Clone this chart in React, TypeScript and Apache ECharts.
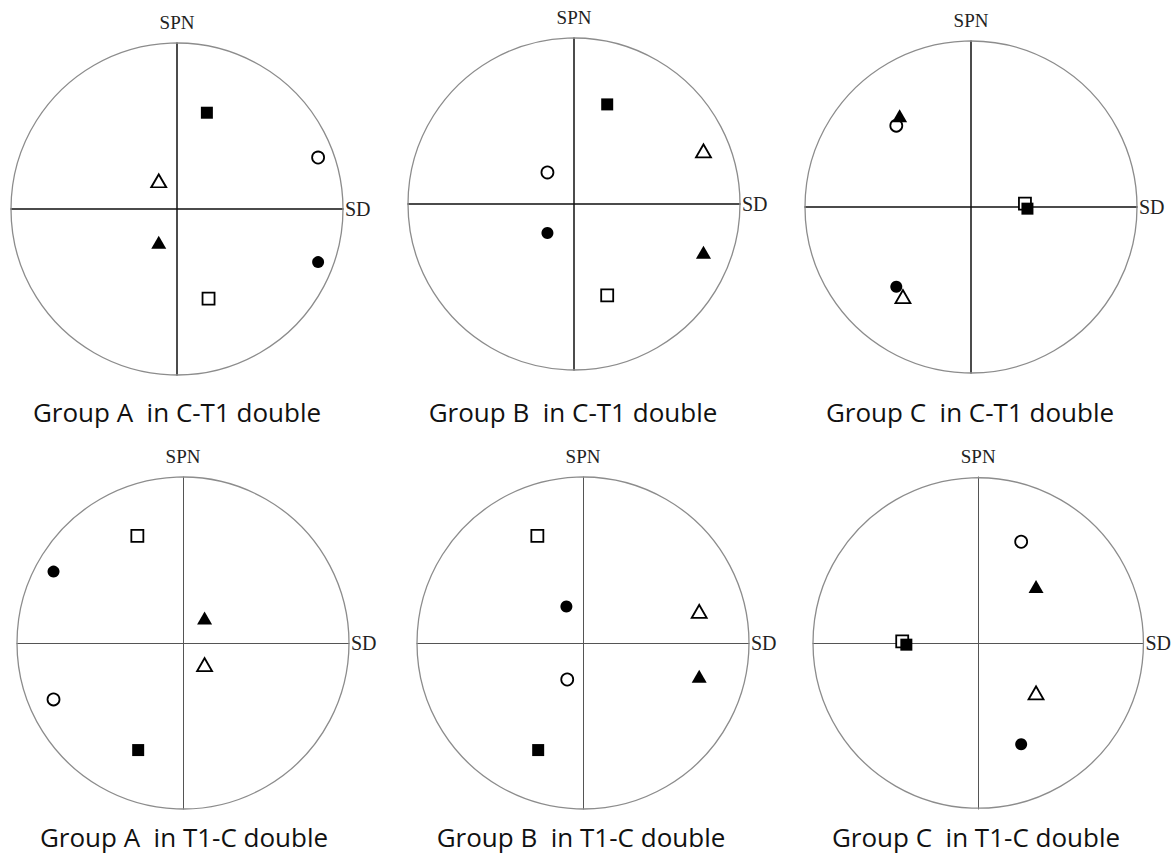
import React, { useEffect, useRef } from "react";
import * as echarts from "echarts";

// Marker kinds, in the order of each panel's point list
const markerKinds = ["filledSquare", "openSquare", "filledCircle", "openCircle", "filledTriangle", "openTriangle"];

// Panel titles
const panelTitles = [
  "Group A  in C-T1 double",
  "Group B  in C-T1 double",
  "Group C  in C-T1 double",
  "Group A  in T1-C double",
  "Group B  in T1-C double",
  "Group C  in T1-C double",
];

// Points [SD, SPN] per panel, order = markerKinds
const groupA_CT1 = [[0.18, 0.58], [0.19, -0.54], [0.85, -0.32], [0.85, 0.31], [-0.11, -0.2], [-0.11, 0.17]];
const groupB_CT1 = [[0.2, 0.6], [0.2, -0.55], [-0.16, -0.175], [-0.16, 0.19], [0.78, -0.29], [0.78, 0.32]];
const groupC_CT1 = [[0.34, -0.01], [0.325, 0.02], [-0.45, -0.48], [-0.45, 0.49], [-0.43, 0.55], [-0.41, -0.54]];
const groupA_T1C = [[-0.27, -0.645], [-0.275, 0.645], [-0.78, 0.43], [-0.78, -0.34], [0.13, 0.15], [0.13, -0.13]];
const groupB_T1C = [[-0.27, -0.645], [-0.275, 0.645], [-0.1, 0.22], [-0.095, -0.22], [0.7, -0.2], [0.7, 0.19]];
const groupC_T1C = [[-0.435, -0.01], [-0.46, 0.01], [0.26, -0.61], [0.26, 0.61], [0.35, 0.34], [0.35, -0.3]];

const panelData = [groupA_CT1, groupB_CT1, groupC_CT1, groupA_T1C, groupB_T1C, groupC_T1C];

// Axis names
const xAxisName = "SD";
const yAxisName = "SPN";

// Layout (circle centres and radius in px)
const centers = [
  [177, 209],
  [574, 204],
  [971, 207],
  [183, 643],
  [583, 643],
  [979, 643],
];
const R = 166;
const titlePos = [
  [177, 412],
  [573, 412],
  [970, 412],
  [184, 837],
  [581, 837],
  [976, 837],
];

function markerStyle(kind: string) {
  const filled = kind.startsWith("filled");
  let symbol = "rect";
  let size: any = 12;
  if (kind.endsWith("Circle")) {
    symbol = "circle";
    size = 12;
  } else if (kind.endsWith("Triangle")) {
    symbol = "triangle";
    size = [15, 13];
  } else {
    size = 12;
  }
  return {
    symbol,
    symbolSize: size,
    itemStyle: {
      color: filled ? "#000" : "#fff",
      borderColor: "#000",
      borderWidth: filled ? 0 : 1.8,
      opacity: 1,
    },
  };
}

export default function App() {
  const ref = useRef<HTMLDivElement>(null);
  useEffect(() => {
    if (!ref.current) return;
    const chart = echarts.init(ref.current, undefined, { renderer: "svg" });
    const grid: any[] = [];
    const xAxis: any[] = [];
    const yAxis: any[] = [];
    const series: any[] = [];
    const graphic: any[] = [];
    panelData.forEach((pts, i) => {
      const [cx, cy] = centers[i];
      const topRow = i < 3;
      const axisColor = topRow ? "#111" : "#555";
      const axisWidth = topRow ? 1.5 : 1;
      grid.push({ left: cx - R, top: cy - R, width: 2 * R, height: 2 * R });
      xAxis.push({
        gridIndex: i,
        type: "value",
        min: -1,
        max: 1,
        axisLine: { show: true, onZero: true, lineStyle: { color: axisColor, width: axisWidth } },
        axisTick: { show: false },
        axisLabel: { show: false },
        splitLine: { show: false },
        name: xAxisName,
        nameLocation: "end",
        nameGap: 2,
        nameTextStyle: { fontFamily: "Liberation Serif", fontSize: 20, color: "#222" },
      });
      yAxis.push({
        gridIndex: i,
        type: "value",
        min: -1,
        max: 1,
        axisLine: { show: true, onZero: true, lineStyle: { color: axisColor, width: axisWidth } },
        axisTick: { show: false },
        axisLabel: { show: false },
        splitLine: { show: false },
        name: yAxisName,
        nameLocation: "end",
        nameGap: 11,
        nameTextStyle: { fontFamily: "Liberation Serif", fontSize: 19, color: "#222" },
      });
      series.push({
        type: "custom",
        xAxisIndex: i,
        yAxisIndex: i,
        clip: false,
        silent: true,
        z: 1,
        data: [[0, 0]],
        renderItem: (params: any, api: any) => {
          const c = api.coord([0, 0]);
          const s = api.size([1, 1]);
          return {
            type: "circle",
            shape: { cx: c[0], cy: c[1], r: s[0] },
            style: { fill: "none", stroke: "#8c8c8c", lineWidth: 1.3 },
          };
        },
      });
      pts.forEach((p, j) => {
        const kind = markerKinds[j];
        series.push({
          type: "scatter",
          name: kind,
          xAxisIndex: i,
          yAxisIndex: i,
          z: kind.startsWith("filled") ? 4 : 3,
          data: [p],
          ...markerStyle(kind),
        });
      });
      graphic.push({
        type: "text",
        x: titlePos[i][0],
        y: titlePos[i][1],
        style: {
          text: panelTitles[i],
          fontFamily: "Open Sans",
          fontSize: 26,
          fill: "#111",
          textAlign: "center",
          textVerticalAlign: "middle",
        },
      });
    });
    chart.setOption({
      animation: false,
      backgroundColor: "#fff",
      grid,
      xAxis,
      yAxis,
      series,
      graphic,
    });
    return () => chart.dispose();
  }, []);
  return (
    <div
      ref={ref}
      style={{ position: "absolute", left: 0, top: 0, width: 1172, height: 855, background: "#fff" }}
    />
  );
}
